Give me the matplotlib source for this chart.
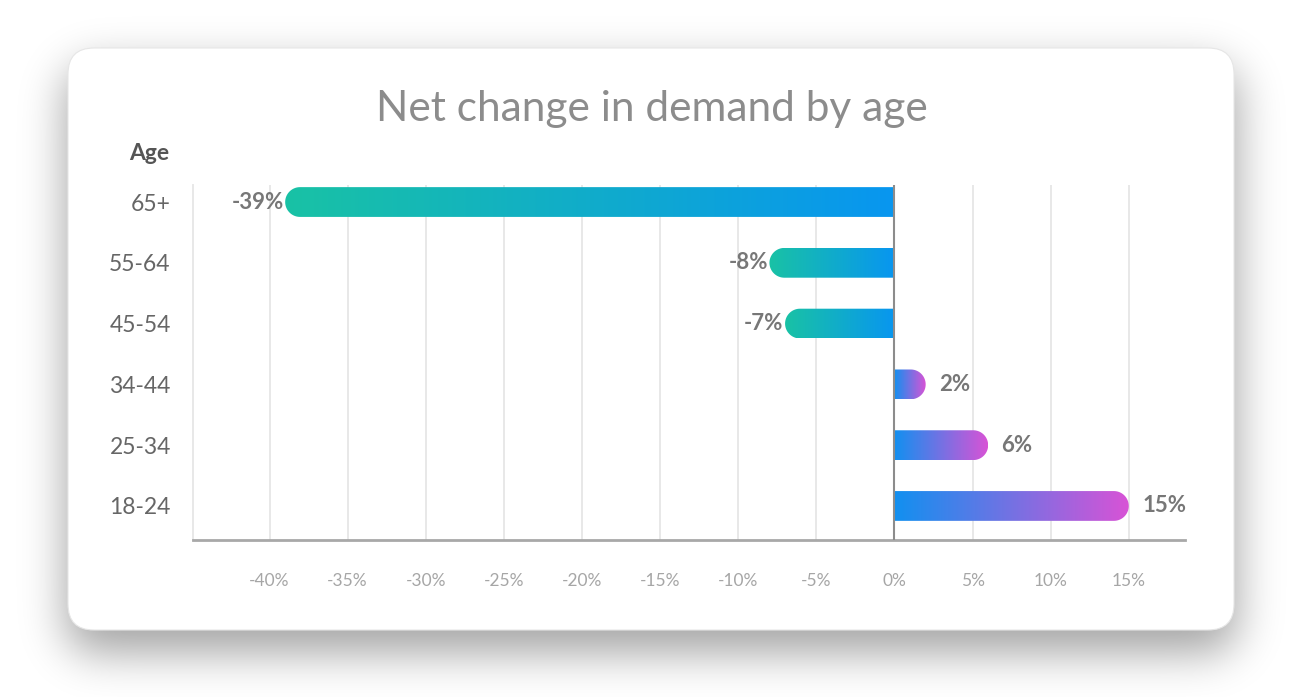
import numpy as np
import matplotlib; matplotlib.use("Agg")
import matplotlib.pyplot as plt
from matplotlib.patches import FancyBboxPatch, PathPatch
from matplotlib.path import Path
from matplotlib.colors import LinearSegmentedColormap

# data (top to bottom in the picture is 65+ ... 18-24)
ages=["18-24","25-34","34-44","45-54","55-64","65+"]
change=[15,6,2,-7,-8,-39]
xticks=[-40,-35,-30,-25,-20,-15,-10,-5,0,5,10,15]

W,H=1311,697
TEAL="#19c2a5"; BLUE="#0896f0"; MAGENTA="#d853d6"
neg_cmap=LinearSegmentedColormap.from_list("neg",[TEAL,BLUE])
pos_cmap=LinearSegmentedColormap.from_list("pos",["#1190f0",MAGENTA])
plt.rcParams["font.family"]=["Lato","DejaVu Sans"]

def blur(img,sigma):
    r=int(3*sigma); k=np.exp(-0.5*(np.arange(-r,r+1)/sigma)**2); k/=k.sum()
    img=np.apply_along_axis(lambda v:np.convolve(v,k,mode="same"),0,img)
    return np.apply_along_axis(lambda v:np.convolve(v,k,mode="same"),1,img)

def rrect_mask(x0,y0,x1,y1,rad,pad=80):
    yy,xx=np.mgrid[0:H+2*pad,0:W+2*pad]-pad
    dx=np.maximum(np.maximum(x0+rad-xx,xx-(x1-rad)),0)
    dy=np.maximum(np.maximum(y0+rad-yy,yy-(y1-rad)),0)
    return (np.hypot(dx,dy)<=rad).astype(float)

fig=plt.figure(figsize=(W/100,H/100),dpi=100)
bg=fig.add_axes([0,0,1,1]); bg.set_xlim(0,W); bg.set_ylim(H,0); bg.axis("off")
# card shadow + card
pad=80
sh=blur(rrect_mask(66,66,1236,652,26,pad),22)[pad:pad+H,pad:pad+W]
rgba=np.zeros((H,W,4)); rgba[...,3]=sh*0.36
bg.imshow(rgba,extent=[0,W,H,0],aspect="auto",zorder=0)
bg.add_patch(FancyBboxPatch((68,48),1166,582,boxstyle="round,pad=0,rounding_size=26",
                            fc="white",ec="#e6e6e6",lw=0.8,zorder=1))
bg.set_xlim(0,W); bg.set_ylim(H,0)
bg.text(652,109,"Net change in demand by age",ha="center",va="center",fontsize=30.5,
        color="#8c8c8c")
bg.text(169,153,"Age",ha="right",va="center",fontsize=16.5,color="#555555",fontweight="bold")

# chart axes
L,R,T,B=193,1185,185,540
ax=fig.add_axes([L/W,1-B/H,(R-L)/W,(B-T)/H])
ax.patch.set_alpha(0)
xlim=(-44.9,18.6); ylim=(-0.56,5.28)
pxx=(R-L)/(xlim[1]-xlim[0]); pxy=(B-T)/(ylim[1]-ylim[0])
h=0.49
rx=(h/2*pxy)/pxx
for i,v in enumerate(change):
    s=np.sign(v); xe=v-s*rx
    th=np.linspace(-np.pi/2,np.pi/2,40)
    arc=np.column_stack([xe+s*rx*np.cos(th),i+h/2*np.sin(th)])
    pts=np.vstack([[0,i-h/2],arc,[0,i+h/2],[0,i-h/2]])
    clip=PathPatch(Path(pts),transform=ax.transData,fc="none",ec="none")
    ax.add_patch(clip)
    grad=np.linspace(0,1,256).reshape(1,-1)
    im=ax.imshow(grad,cmap=neg_cmap if v<0 else pos_cmap,aspect="auto",interpolation="bicubic",
                 extent=[min(0,v),max(0,v),i-h/2,i+h/2],zorder=3)
    im.set_clip_path(clip)
    if v<0:
        ax.text(v-0.1,i,f"{v}%",ha="right",va="center",fontsize=16,color="#777777",fontweight="bold",zorder=4)
    else:
        ax.text(v+0.85,i,f"{v}%",ha="left",va="center",fontsize=16,color="#777777",fontweight="bold",zorder=4)

ax.set_xlim(*xlim); ax.set_ylim(*ylim)
for x in xticks:
    ax.axvline(x,color="#e8e8e8",lw=1.4,zorder=1)
ax.axvline(0,color="#8c8c8c",lw=1.5,zorder=5)
ax.set_xticks(xticks); ax.set_xticklabels([f"{x}%" for x in xticks])
ax.set_yticks(range(len(ages))); ax.set_yticklabels(ages)
ax.tick_params(axis="x",length=0,pad=24,labelsize=12.5,labelcolor="#a6a6a6")
ax.tick_params(axis="y",length=0,pad=16,labelsize=16.5,labelcolor="#666666")
for sp in ["top","right"]: ax.spines[sp].set_visible(False)
ax.spines["left"].set_color("#e8e8e8"); ax.spines["left"].set_linewidth(1.4)
ax.spines["bottom"].set_color("#a8a8a8"); ax.spines["bottom"].set_linewidth(2)

fig.savefig("out.png",dpi=100)
